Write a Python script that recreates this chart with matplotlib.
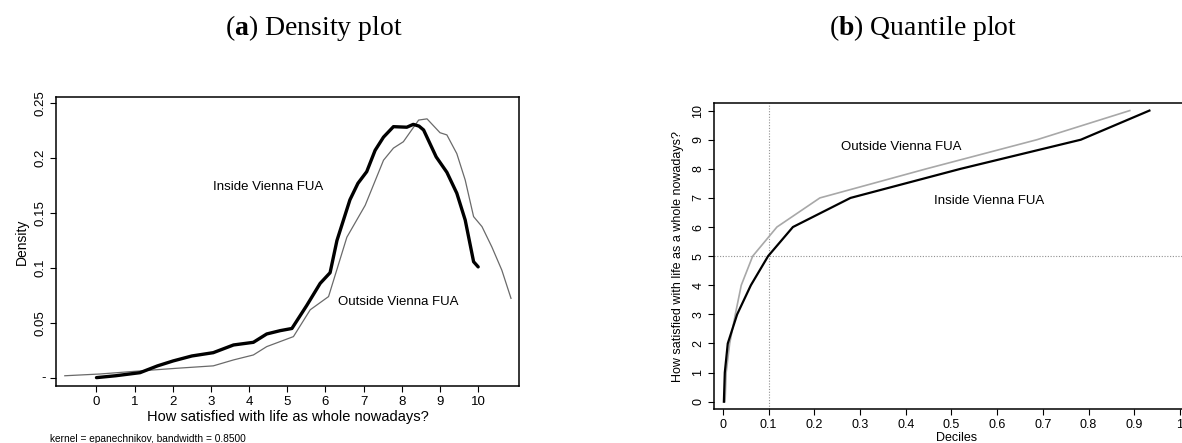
import matplotlib.pyplot as plt

plt.rcParams['font.family'] = ['Liberation Sans', 'DejaVu Sans']
plt.rcParams['mathtext.fontset'] = 'custom'
plt.rcParams['mathtext.rm'] = 'Liberation Serif'
plt.rcParams['mathtext.bf'] = 'Liberation Serif:bold'

# (a) density curves
x_inside = [0.0, 0.5, 1.14, 1.6, 2.01, 2.5, 3.06, 3.59, 4.11, 4.46, 4.81, 5.12, 5.51, 5.86, 6.12,
            6.30, 6.64, 6.85, 7.08, 7.30, 7.52, 7.78, 8.13, 8.30, 8.45, 8.57, 8.90, 9.18, 9.44, 9.66, 9.88, 10.0]
y_inside = [0.0003, 0.002, 0.0048, 0.011, 0.0155, 0.020, 0.023, 0.030, 0.0324, 0.040, 0.043, 0.045, 0.066, 0.086, 0.0957,
            0.125, 0.162, 0.177, 0.1876, 0.207, 0.219, 0.2285, 0.228, 0.2306, 0.229, 0.2255, 0.201, 0.187, 0.168, 0.1436, 0.1057, 0.101]
x_outside = [-0.83, 0.09, 1.14, 2.1, 3.06, 3.59, 4.11, 4.46, 5.16, 5.6, 6.08, 6.56, 7.04,
             7.52, 7.78, 8.04, 8.44, 8.66, 9.0, 9.18, 9.44, 9.66, 9.88, 10.1, 10.36, 10.62, 10.86]
y_outside = [0.002, 0.0036, 0.0064, 0.0088, 0.011, 0.0164, 0.0209, 0.0285, 0.0376, 0.062, 0.074, 0.128, 0.157,
             0.198, 0.209, 0.2148, 0.2345, 0.2356, 0.223, 0.221, 0.204, 0.18, 0.1467, 0.1376, 0.119, 0.098, 0.0724]

# (b) quantile curves
life_values = [0, 1, 2, 3, 4, 5, 6, 7, 8, 9, 10]
q_inside = [0.002, 0.004, 0.0105, 0.031, 0.061, 0.0987, 0.153, 0.279, 0.52, 0.783, 0.933]
q_outside = [0.0046, 0.007, 0.0147, 0.027, 0.040, 0.065, 0.118, 0.212, 0.445, 0.687, 0.89]

dens_ticks = [0, 0.05, 0.1, 0.15, 0.2, 0.25]
dens_labels = ['-', '0.05', '0.1', '0.15', '0.2', '0.25']
decile_ticks = [0, 0.1, 0.2, 0.3, 0.4, 0.5, 0.6, 0.7, 0.8, 0.9, 1]
decile_labels = ['0', '0.1', '0.2', '0.3', '0.4', '0.5', '0.6', '0.7', '0.8', '0.9', '1']

fig = plt.figure(figsize=(11.82, 4.43), dpi=100)

# ---- left panel
ax1 = fig.add_axes([0.0474, 0.1287, 0.3917, 0.6524])
ax1.plot(x_outside, y_outside, color='#6a6a6a', lw=0.9)
ax1.plot(x_inside, y_inside, color='black', lw=2.4, solid_capstyle='round', solid_joinstyle='round')
ax1.set_xlim(-1.06, 11.07)
ax1.set_ylim(-0.0073, 0.2555)
ax1.set_xticks(range(0, 11))
ax1.set_yticks(dens_ticks)
ax1.set_yticklabels(dens_labels, rotation=90, va='center')
ax1.get_yticklabels()[0].set_rotation(0)
ax1.tick_params(labelsize=9.5, length=4, width=0.8, pad=3)
ax1.set_xlabel('How satisfied with life as whole nowadays?', fontsize=10.5, labelpad=2)
ax1.set_ylabel('Density', fontsize=10, labelpad=4)
ax1.text(4.5, 0.174, 'Inside Vienna FUA', fontsize=9.5, ha='center', va='center')
ax1.text(7.9, 0.069, 'Outside Vienna FUA', fontsize=9.5, ha='center', va='center')
for s in ax1.spines.values():
    s.set_linewidth(1.1)
fig.text(50 / 1182, 1 - 439 / 443, 'kernel = epanechnikov, bandwidth = 0.8500',
         fontsize=7.3, ha='left', va='center')

# ---- right panel
ax2 = fig.add_axes([0.6043, 0.0761, 0.4095, 0.6907])
ax2.axvline(0.1, color='#909090', lw=0.8, ls=(0, (1, 1.5)))
ax2.axhline(5, color='#909090', lw=0.8, ls=(0, (1, 1.5)))
ax2.plot(q_outside, life_values, color='#a8a8a8', lw=1.2)
ax2.plot(q_inside, life_values, color='black', lw=1.6)
ax2.set_xlim(-0.019, 1.04)
ax2.set_ylim(-0.26, 10.25)
ax2.set_xticks(decile_ticks)
ax2.set_xticklabels(decile_labels)
ax2.set_yticks(life_values)
ax2.set_yticklabels([str(v) for v in life_values], rotation=90, va='center')
ax2.tick_params(labelsize=9, length=4, width=0.8, pad=3)
ax2.set_xlabel('Deciles', fontsize=9, labelpad=1)
ax2.set_ylabel('How satisfied with life as a whole nowadays?', fontsize=9, labelpad=6)
ax2.text(0.39, 8.76, 'Outside Vienna FUA', fontsize=9.5, ha='center', va='center')
ax2.text(0.583, 6.91, 'Inside Vienna FUA', fontsize=9.5, ha='center', va='center')
for s in ax2.spines.values():
    s.set_linewidth(1.1)

# panel titles
fig.text(314 / 1182, 1 - 28 / 443, r'($\mathbf{a}$) Density plot', fontsize=20,
         family='Liberation Serif', ha='center', va='center')
fig.text(923 / 1182, 1 - 28 / 443, r'($\mathbf{b}$) Quantile plot', fontsize=20,
         family='Liberation Serif', ha='center', va='center')

fig.savefig('out.png', dpi=100)
